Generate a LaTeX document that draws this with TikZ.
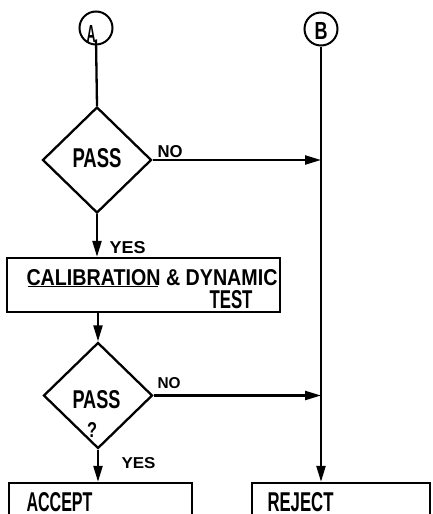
\documentclass[tikz,border=0pt]{standalone}
\usepackage{fontspec}
\setmainfont{Liberation Sans}
\usetikzlibrary{shapes.geometric,arrows.meta}
\newcommand{\fitt}[3]{\resizebox{#1pt}{#2pt}{\bfseries #3}}
\begin{document}
\begin{tikzpicture}[x=1pt,y=-1pt,
  ln/.style={line width=2.3pt},
  flow/.style={ln,-{Triangle[length=16pt,width=9pt]}},
  conn/.style={circle,draw,line width=2pt,minimum size=33pt,inner sep=0pt},
  dec/.style={diamond,draw,line width=2.3pt,minimum width=109pt,minimum height=106pt,inner sep=0pt},
  procbox/.style={rectangle,draw,line width=2.3pt,inner sep=0pt},
  lbl/.style={anchor=base west,inner sep=0pt,outer sep=0pt}]
\clip (0,0) rectangle (432,514);
\fill[white] (0,0) rectangle (432,514);
% connectors
\node[conn] (A) at (96,28) {};
\node[lbl] (Atxt) at (86.5,42) {\fitt{9}{17}{A}};
\node[conn] (B) at (321,29) {};
\node[lbl] (Btxt) at (314.5,39) {\fitt{13}{17}{B}};
% decisions
\node[dec] (d1) at (97,160) {};
\node[lbl] (p1) at (72.5,167) {\fitt{49}{19}{PASS}};
\node[dec] (d2) at (98,395.5) {};
\node[lbl] (p2) at (72.5,408) {\fitt{48}{18}{PASS}};
\node[lbl] (q2) at (87,437) {\fitt{10}{15}{?}};
% process box
\node[procbox,minimum width=273pt,minimum height=54pt] (cal) at (143.5,285) {};
\node[lbl] (caltxt) at (26.5,285) {\fitt{251}{16}{CALIBRATION \& DYNAMIC}};
\node[lbl] (testtxt) at (209.5,308) {\fitt{43}{18}{TEST}};
\draw[line width=1.5pt] (caltxt.base west) ++(1,1.5) -- ++(130,0);
% terminal boxes
\node[procbox,minimum width=183pt,minimum height=50pt] (acc) at (100.5,508) {};
\node[lbl] (acctxt) at (26.5,511.5) {\fitt{66}{19}{ACCEPT}};
\node[procbox,minimum width=178pt,minimum height=50pt] (rej) at (341,508) {};
\node[lbl] (rejtxt) at (267.5,511.5) {\fitt{66}{19}{REJECT}};
% flow lines
\draw[ln] ([yshift=6pt]A.south) -- (d1.north);
\draw[flow] (d1.south) -- (d1.south |- cal.north);
\draw[flow] (d2.north |- cal.south) -- (d2.north);
\draw[flow] (d2.south) -- (d2.south |- acc.north);
\draw[flow] (B.south) -- (B.south |- rej.north);
\draw[flow] (d1.east) -- (d1.east -| B.south);
\draw[flow] (d2.east) -- (d2.east -| B.south);
% branch labels
\node[lbl] (no1) at (157.5,157) {\fitt{25}{12}{NO}};
\node[lbl] (yes1) at (109.5,253) {\fitt{36}{12}{YES}};
\node[lbl] (no2) at (157.5,388) {\fitt{23}{11}{NO}};
\node[lbl] (yes2) at (121.5,468) {\fitt{34}{11}{YES}};
\end{tikzpicture}
\end{document}
